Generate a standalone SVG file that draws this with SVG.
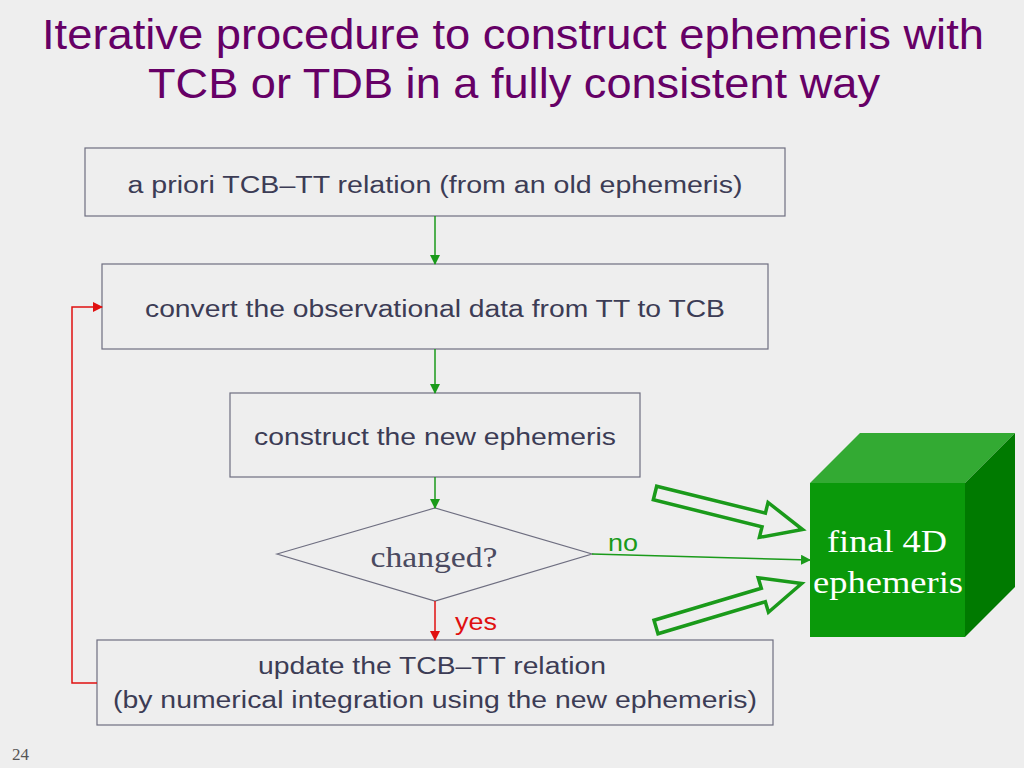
<svg xmlns="http://www.w3.org/2000/svg" width="1024" height="768" viewBox="0 0 1024 768">
<defs>
<marker id="ag" markerWidth="10" markerHeight="10" refX="9" refY="5" orient="auto" markerUnits="userSpaceOnUse"><path d="M0,0 L10,5 L0,10 z" fill="#1a9a1a"/></marker>
<marker id="ar" markerWidth="10" markerHeight="10" refX="9" refY="5" orient="auto" markerUnits="userSpaceOnUse"><path d="M0,0 L10,5 L0,10 z" fill="#e01010"/></marker>
<path id="hollow" d="M0,-7 L112,-7 L112,-18 L152,0 L112,18 L112,7 L0,7 Z"/>
</defs>
<style>
.box{fill:none;stroke:#6e6e80;stroke-width:1.2}
.t{font-family:"Liberation Sans",Arial,sans-serif;font-size:23px;fill:#3c3c55;text-anchor:middle}
.s{font-family:"Liberation Serif","Times New Roman",serif;text-anchor:middle}
.g{stroke:#1a9a1a;stroke-width:1.5;fill:none}
.r{stroke:#e01010;stroke-width:1.5;fill:none}
.ho{fill:none;stroke:#1a9a1a;stroke-width:3.5;stroke-linejoin:miter}
</style>
<rect width="1024" height="768" fill="#eeeeee"/>
<g id="title" font-family="'Liberation Sans',Arial,sans-serif" font-size="42" fill="#660066" text-anchor="middle">
<text x="513" y="49" textLength="942" lengthAdjust="spacingAndGlyphs">Iterative procedure to construct ephemeris with</text>
<text x="514" y="98" textLength="732" lengthAdjust="spacingAndGlyphs">TCB or TDB in a fully consistent way</text>
</g>
<g id="n1"><rect class="box" x="85" y="148" width="700" height="68"/><text class="t" x="435" y="193" textLength="615" lengthAdjust="spacingAndGlyphs">a priori TCB–TT relation (from an old ephemeris)</text></g>
<g id="n2"><rect class="box" x="102" y="264" width="666" height="85"/><text class="t" x="435" y="317" textLength="580" lengthAdjust="spacingAndGlyphs">convert the observational data from TT to TCB</text></g>
<g id="n3"><rect class="box" x="230" y="393" width="410" height="84"/><text class="t" x="435" y="445" textLength="362" lengthAdjust="spacingAndGlyphs">construct the new ephemeris</text></g>
<g id="n4"><polygon class="box" points="277,554 435,508 592,554 435,601"/><text class="s" x="434" y="567" font-size="29" fill="#4a4a60" textLength="127" lengthAdjust="spacingAndGlyphs">changed?</text></g>
<g id="n5"><rect class="box" x="97" y="640" width="676" height="85"/><text class="t" x="432" y="674" textLength="348" lengthAdjust="spacingAndGlyphs">update the TCB–TT relation</text><text class="t" x="435" y="708" textLength="644" lengthAdjust="spacingAndGlyphs">(by numerical integration using the new ephemeris)</text></g>
<g id="n6">
<polygon points="810,483 860,433 1015,433 965,483" fill="#33aa33"/>
<polygon points="965,483 1015,433 1015,587 965,637" fill="#007a00"/>
<rect x="810" y="483" width="155" height="154" fill="#0a990a"/>
<text class="s" x="887" y="552" font-size="32" fill="#ffffff" textLength="120" lengthAdjust="spacingAndGlyphs">final 4D</text>
<text class="s" x="888" y="593" font-size="32" fill="#ffffff" textLength="150" lengthAdjust="spacingAndGlyphs">ephemeris</text>
</g>
<g id="connectors">
<line class="g" x1="435" y1="216" x2="435" y2="264" marker-end="url(#ag)"/>
<line class="g" x1="435" y1="349" x2="435" y2="393" marker-end="url(#ag)"/>
<line class="g" x1="435" y1="477" x2="435" y2="508" marker-end="url(#ag)"/>
<line class="r" x1="435" y1="601" x2="435" y2="640" marker-end="url(#ar)"/>
<line class="g" x1="592" y1="554" x2="810" y2="560" marker-end="url(#ag)"/>
<polyline class="r" points="97,683 72,683 72,307 102,307" marker-end="url(#ar)"/>
<use href="#hollow" class="ho" transform="translate(655,493) rotate(13.9)"/>
<use href="#hollow" class="ho" transform="translate(656,627) rotate(-16.6)"/>
<text x="608" y="551" font-family="'Liberation Sans',Arial,sans-serif" font-size="23" fill="#1a9a1a" textLength="30" lengthAdjust="spacingAndGlyphs">no</text>
<text x="455" y="630" font-family="'Liberation Sans',Arial,sans-serif" font-size="23" fill="#e01010" textLength="42" lengthAdjust="spacingAndGlyphs">yes</text>
</g>
<text x="12" y="760" font-family="'Liberation Serif','Times New Roman',serif" font-size="17" fill="#555555">24</text>
</svg>
